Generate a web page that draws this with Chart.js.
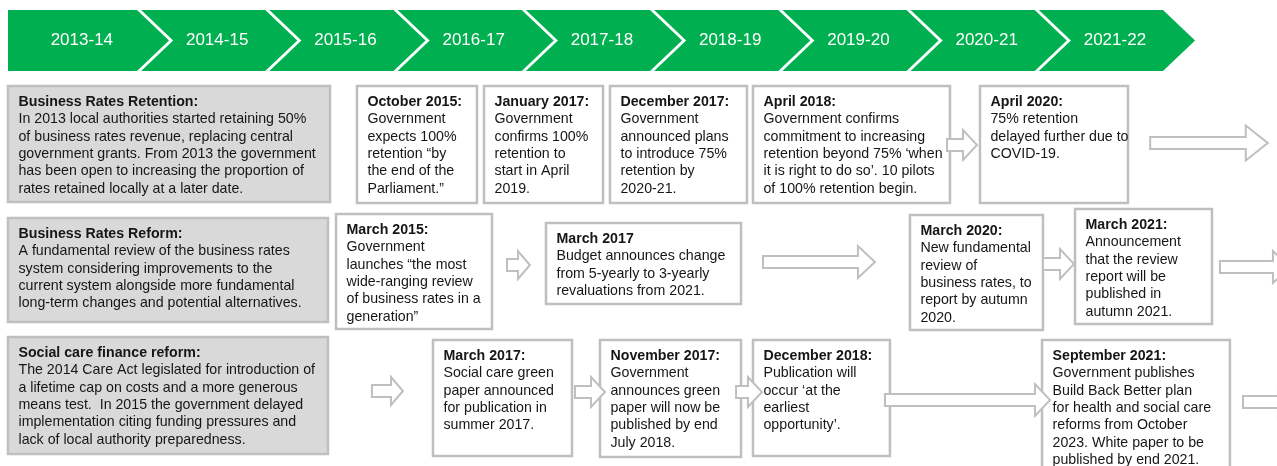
<!DOCTYPE html>
<html>
<head>
<meta charset="utf-8">
<script src="https://cdn.jsdelivr.net/npm/chart.js@4.4.1/dist/chart.umd.min.js"></script>
<style>
  html, body { margin: 0; padding: 0; background: #ffffff; }
  #wrap { width: 1277px; height: 466px; }
</style>
</head>
<body>
<div id="wrap"><canvas id="c" width="1277" height="466"></canvas></div>
<script>
// ---------------- DATA ----------------
const years = ['2013-14', '2014-15', '2015-16', '2016-17', '2017-18', '2018-19', '2019-20', '2020-21', '2021-22'];

const rowTitles = ['Business Rates Retention:', 'Business Rates Reform:', 'Social care finance reform:'];

const rowDescriptions = [
  ['In 2013 local authorities started retaining 50%',
   'of business rates revenue, replacing central',
   'government grants. From 2013 the government',
   'has been open to increasing the proportion of',
   'rates retained locally at a later date.'],
  ['A fundamental review of the business rates',
   'system considering improvements to the',
   'current system alongside more fundamental',
   'long-term changes and potential alternatives.'],
  ['The 2014 Care Act legislated for introduction of',
   'a lifetime cap on costs and a more generous',
   'means test.  In 2015 the government delayed',
   'implementation citing funding pressures and',
   'lack of local authority preparedness.']
];

const retentionEvents = [
  ['October 2015:', 'Government', 'expects 100%', 'retention \u201cby', 'the end of the', 'Parliament.\u201d'],
  ['January 2017:', 'Government', 'confirms 100%', 'retention to', 'start in April', '2019.'],
  ['December 2017:', 'Government', 'announced plans', 'to introduce 75%', 'retention by', '2020-21.'],
  ['April 2018:', 'Government confirms', 'commitment to increasing', 'retention beyond 75% \u2018when', 'it is right to do so\u2019. 10 pilots', 'of 100% retention begin.'],
  ['April 2020:', '75% retention', 'delayed further due to', 'COVID-19.']
];

const reformEvents = [
  ['March 2015:', 'Government', 'launches \u201cthe most', 'wide-ranging review', 'of business rates in a', 'generation\u201d'],
  ['March 2017', 'Budget announces change', 'from 5-yearly to 3-yearly', 'revaluations from 2021.'],
  ['March 2020:', 'New fundamental', 'review of', 'business rates, to', 'report by autumn', '2020.'],
  ['March 2021:', 'Announcement', 'that the review', 'report will be', 'published in', 'autumn 2021.']
];

const socialCareEvents = [
  ['March 2017:', 'Social care green', 'paper announced', 'for publication in', 'summer 2017.'],
  ['November 2017:', 'Government', 'announces green', 'paper will now be', 'published by end', 'July 2018.'],
  ['December 2018:', 'Publication will', 'occur \u2018at the', 'earliest', 'opportunity\u2019.'],
  ['September 2021:', 'Government publishes', 'Build Back Better plan', 'for health and social care', 'reforms from October', '2023. White paper to be', 'published by end 2021.']
];

// ---------------- LAYOUT (scale units: x = position on the year timeline, y = vertical layout scale) ----------------
const yearLabelPos = [0.57, 1.625, 2.625, 3.625, 4.625, 5.625, 6.625, 7.625, 8.625];
const headerBoxes = [[-0.006, 2.505, 86, 202], [-0.006, 2.489, 218, 322], [-0.006, 2.489, 337, 454]];
const retentionBoxes = [[2.715, 3.651, 86, 203], [3.706, 4.634, 86, 203], [4.688, 5.756, 86, 203], [5.803, 7.339, 86, 203], [7.573, 8.727, 86, 203]];
const reformBoxes = [[2.552, 3.768, 214, 329], [4.189, 5.710, 223, 304], [7.027, 8.064, 215, 330], [8.314, 9.382, 209, 324]];
const socialCareBoxes = [[3.308, 4.392, 340, 456], [4.610, 5.710, 340, 457], [5.803, 6.871, 340, 456], [8.057, 9.522, 340, 480]];
// arrows: [xStart, xEnd, yCentre, headHeight, headLength]
const arrowsLayout = [
  [7.316, 7.550, 145, 30, 14], [8.900, 9.817, 143, 35, 22],
  [3.885, 4.064, 265, 28, 12], [5.881, 6.754, 262, 32, 17], [8.064, 8.306, 264, 30, 14], [9.444, 9.990, 267, 32, 17],
  [2.832, 3.074, 391, 28, 12], [4.415, 4.649, 392, 30, 14], [5.671, 5.873, 392, 30, 14], [6.832, 8.119, 400, 32, 15], [9.624, 10.029, 402, 32, 17]
];

// ---------------- STYLE ----------------
const GREEN = '#00B050';
const HEADER_FILL = '#D9D9D9';
const BORDER = '#BFBFBF';
const TEXT = '#161616';
const FONT_FAMILY = '"Liberation Sans", Arial, Helvetica, sans-serif';
const FONT_SIZE = 14.2;
const LINE_H = 17.3;

const timelinePlugin = {
  id: 'timeline',
  afterDraw(chart) {
    const ctx = chart.ctx;
    const xs = chart.scales.x, ys = chart.scales.y;
    const X = v => xs.getPixelForValue(v);
    const Y = v => ys.getPixelForValue(v);

    // chevrons
    const bandTop = Y(10), bandBot = Y(71), bandMid = (bandTop + bandBot) / 2;
    const tip = 0.25, gap = 0.032;
    ctx.save();
    ctx.fillStyle = GREEN;
    years.forEach((yr, i) => {
      const l = X(i + (i === 0 ? 0 : gap)), r = X(i + 1), lt = X(i + (i === 0 ? 0 : gap) + tip), rt = X(i + 1 + tip);
      ctx.beginPath();
      ctx.moveTo(i === 0 ? X(-0.006) : l, bandTop);
      ctx.lineTo(r, bandTop);
      ctx.lineTo(rt, bandMid);
      ctx.lineTo(r, bandBot);
      ctx.lineTo(i === 0 ? X(-0.006) : l, bandBot);
      if (i !== 0) ctx.lineTo(lt, bandMid);
      ctx.closePath();
      ctx.fill();
    });
    ctx.fillStyle = '#ffffff';
    ctx.font = '17px ' + FONT_FAMILY;
    ctx.textAlign = 'center';
    ctx.textBaseline = 'middle';
    years.forEach((yr, i) => {
      ctx.fillText(yr, X(yearLabelPos[i]), bandMid);
    });
    ctx.restore();

    function box(b, fill, lines) {
      const x0 = X(b[0]), x1 = X(b[1]), y0 = Y(b[2]), y1 = Y(b[3]);
      ctx.save();
      ctx.fillStyle = fill;
      ctx.fillRect(x0, y0, x1 - x0, y1 - y0);
      ctx.strokeStyle = BORDER;
      ctx.lineWidth = 2.5;
      ctx.strokeRect(x0, y0, x1 - x0, y1 - y0);
      ctx.fillStyle = TEXT;
      ctx.textAlign = 'left';
      ctx.textBaseline = 'alphabetic';
      lines.forEach((t, k) => {
        ctx.font = (k === 0 ? 'bold ' : '') + FONT_SIZE + 'px ' + FONT_FAMILY;
        ctx.fillText(t, x0 + 10.5, y0 + 20 + k * LINE_H);
      });
      ctx.restore();
    }

    function arrow(a) {
      const x0 = X(a[0]), x1 = X(a[1]), yc = Y(a[2]);
      const s = 12, h = a[3], hl = a[4];
      ctx.save();
      ctx.beginPath();
      ctx.moveTo(x0, yc - s / 2);
      ctx.lineTo(x1 - hl, yc - s / 2);
      ctx.lineTo(x1 - hl, yc - h / 2);
      ctx.lineTo(x1, yc);
      ctx.lineTo(x1 - hl, yc + h / 2);
      ctx.lineTo(x1 - hl, yc + s / 2);
      ctx.lineTo(x0, yc + s / 2);
      ctx.closePath();
      ctx.fillStyle = '#ffffff';
      ctx.fill();
      ctx.strokeStyle = BORDER;
      ctx.lineWidth = 2;
      ctx.lineJoin = 'miter';
      ctx.stroke();
      ctx.restore();
    }

    rowTitles.forEach((t, r) => box(headerBoxes[r], HEADER_FILL, [t].concat(rowDescriptions[r])));
    retentionEvents.forEach((ev, k) => box(retentionBoxes[k], '#ffffff', ev));
    reformEvents.forEach((ev, k) => box(reformBoxes[k], '#ffffff', ev));
    socialCareEvents.forEach((ev, k) => box(socialCareBoxes[k], '#ffffff', ev));
    arrowsLayout.forEach(arrow);
  }
};

new Chart(document.getElementById('c'), {
  type: 'scatter',
  data: { datasets: [{ data: [] }] },
  options: {
    responsive: false,
    animation: false,
    devicePixelRatio: 1,
    layout: { padding: 0 },
    plugins: { legend: { display: false }, tooltip: { enabled: false } },
    scales: {
      x: { type: 'linear', min: -0.0682, max: 9.889, display: false },
      y: { type: 'linear', min: 0, max: 466, reverse: true, display: false }
    }
  },
  plugins: [timelinePlugin]
});
</script>
</body>
</html>
